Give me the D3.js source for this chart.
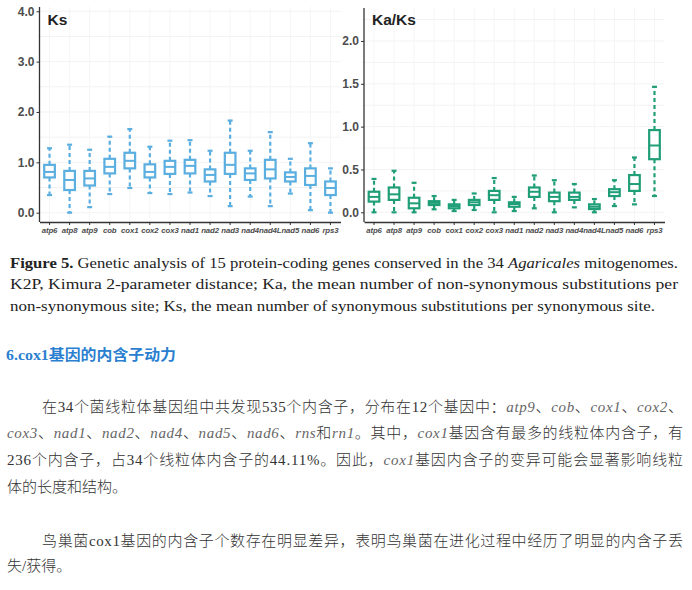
<!DOCTYPE html>
<html>
<head>
<meta charset="utf-8">
<script src="https://cdn.jsdelivr.net/npm/d3@7/dist/d3.min.js"></script>
<style>
body { margin: 0; background: #fff; }
</style>
</head>
<body>
<div id="chart-area"></div>
<script>
// genes on the x axis (same order in both panels)
var genes = ['atp6', 'atp8', 'atp9', 'cob', 'cox1', 'cox2', 'cox3', 'nad1', 'nad2', 'nad3', 'nad4', 'nad4L', 'nad5', 'nad6', 'rps3'];

// Ks box stats
var ksMin = [0.35, 0.00, 0.11, 0.37, 0.49, 0.39, 0.37, 0.40, 0.33, 0.13, 0.32, 0.13, 0.38, 0.05, 0.00];
var ksQ1  = [0.70, 0.45, 0.54, 0.78, 0.88, 0.70, 0.77, 0.78, 0.62, 0.77, 0.65, 0.68, 0.62, 0.55, 0.35];
var ksMed = [0.81, 0.65, 0.68, 0.91, 1.03, 0.81, 0.91, 0.93, 0.75, 0.95, 0.78, 0.86, 0.71, 0.73, 0.49];
var ksQ3  = [0.95, 0.83, 0.83, 1.07, 1.19, 0.96, 1.03, 1.05, 0.86, 1.19, 0.88, 1.05, 0.80, 0.88, 0.62];
var ksMax = [1.28, 1.35, 1.25, 1.51, 1.66, 1.31, 1.43, 1.44, 1.23, 1.83, 1.23, 1.60, 1.07, 1.38, 0.88];

// Ka/Ks box stats
var kkMin = [0.00, 0.00, 0.00, 0.035, 0.015, 0.027, 0.00, 0.015, 0.047, 0.00, 0.058, 0.00, 0.073, 0.093, 0.19];
var kkQ1  = [0.125, 0.145, 0.047, 0.085, 0.047, 0.085, 0.145, 0.065, 0.18, 0.13, 0.145, 0.038, 0.19, 0.25, 0.62];
var kkMed = [0.18, 0.21, 0.105, 0.11, 0.073, 0.117, 0.20, 0.097, 0.24, 0.18, 0.18, 0.065, 0.235, 0.33, 0.78];
var kkQ3  = [0.24, 0.29, 0.17, 0.13, 0.093, 0.145, 0.25, 0.117, 0.29, 0.23, 0.23, 0.093, 0.27, 0.435, 0.96];
var kkMax = [0.39, 0.485, 0.345, 0.19, 0.145, 0.22, 0.40, 0.18, 0.43, 0.375, 0.33, 0.155, 0.375, 0.64, 1.465];

var ksTicks = [0, 1, 2, 3, 4];
var kkTicks = [0, 0.5, 1, 1.5, 2];

// caption and body text, split into the lines of the picture
var captionLines = [
    [['Figure 5.', 'b'], [' Genetic analysis of 15 protein-coding genes conserved in the 34 ', ''], ['Agaricales', 'i'], [' mitogenomes.', '']],
    [['K2P, Kimura 2-parameter distance; Ka, the mean number of non-synonymous substitutions per', '']],
    [['non-synonymous site; Ks, the mean number of synonymous substitutions per synonymous site.', '']]
];
var heading = '6.cox1基因的内含子动力';
var bodyLines = [
    [['在34个菌线粒体基因组中共发现535个内含子，分布在12个基因中：', ''], ['atp9', 'i'], ['、', ''], ['cob', 'i'], ['、', ''], ['cox1', 'i'], ['、', ''], ['cox2', 'i'], ['、', '']],
    [['cox3', 'i'], ['、', ''], ['nad1', 'i'], ['、', ''], ['nad2', 'i'], ['、', ''], ['nad4', 'i'], ['、', ''], ['nad5', 'i'], ['、', ''], ['nad6', 'i'], ['、', ''], ['rns', 'i'], ['和', ''], ['rn1', 'i'], ['。其中，', ''], ['cox1', 'i'], ['基因含有最多的线粒体内含子，有', '']],
    [['236个内含子，占34个线粒体内含子的44.11%。因此，', ''], ['cox1', 'i'], ['基因内含子的变异可能会显著影响线粒', '']],
    [['体的长度和结构。', '']],
    [['鸟巢菌cox1基因的内含子个数存在明显差异，表明鸟巢菌在进化过程中经历了明显的内含子丢', '']],
    [['失/获得。', '']]
];

var svg = d3.select('#chart-area').append('svg')
    .attr('width', 692)
    .attr('height', 590)
    .style('font-family', 'Liberation Sans, Arial, sans-serif');

function table(mins, q1s, meds, q3s, maxs) {
    return genes.map((g, i) => {
        return {gene: g, min: mins[i], q1: q1s[i], med: meds[i], q3: q3s[i], max: maxs[i]};
    });
}

function drawPanel(opt) {
    var g = svg.append('g');
    var x = d3.scaleBand().domain(genes).range([opt.x0, opt.x1]);
    var y = d3.scaleLinear().domain(opt.domain).range([222, opt.top]);
    var bw = x.bandwidth() * 0.53;

    // faint background grid
    var minor = d3.range(opt.ticks[0], opt.domain[1], (opt.ticks[1] - opt.ticks[0]) / 2);
    g.selectAll('.grid-y').data(minor).enter().append('line')
        .attr('x1', opt.x0 - 2).attr('x2', opt.x1)
        .attr('y1', (d) => y(d)).attr('y2', (d) => y(d))
        .attr('stroke', '#f3f3f3').attr('stroke-width', 1);
    g.selectAll('.grid-x').data(genes).enter().append('line')
        .attr('x1', (d) => x(d) + x.bandwidth() / 2).attr('x2', (d) => x(d) + x.bandwidth() / 2)
        .attr('y1', opt.top).attr('y2', 222)
        .attr('stroke', '#f5f5f5').attr('stroke-width', 1);

    var boxes = g.selectAll('.box').data(opt.data).enter().append('g')
        .attr('transform', (d) => 'translate(' + (x(d.gene) + x.bandwidth() / 2) + ',0)');

    // whiskers
    boxes.append('line')
        .attr('y1', (d) => y(d.q3)).attr('y2', (d) => y(d.max))
        .attr('stroke', opt.color).attr('stroke-width', 2.2).attr('stroke-dasharray', '4,3');
    boxes.append('line')
        .attr('y1', (d) => y(d.q1)).attr('y2', (d) => y(d.min))
        .attr('stroke', opt.color).attr('stroke-width', 2.2).attr('stroke-dasharray', '4,3');
    boxes.append('line')
        .attr('x1', -2.5).attr('x2', 2.5)
        .attr('y1', (d) => y(d.max)).attr('y2', (d) => y(d.max))
        .attr('stroke', opt.color).attr('stroke-width', 2.2);
    boxes.append('line')
        .attr('x1', -2.5).attr('x2', 2.5)
        .attr('y1', (d) => y(d.min)).attr('y2', (d) => y(d.min))
        .attr('stroke', opt.color).attr('stroke-width', 2.2);

    boxes.append('rect')
        .attr('x', -bw / 2).attr('width', bw)
        .attr('y', (d) => y(d.q3))
        .attr('height', (d) => y(d.q1) - y(d.q3))
        .attr('fill', '#fff').attr('stroke', opt.color).attr('stroke-width', 2.2);
    boxes.append('line')
        .attr('x1', -bw / 2).attr('x2', bw / 2)
        .attr('y1', (d) => y(d.med)).attr('y2', (d) => y(d.med))
        .attr('stroke', opt.color).attr('stroke-width', 2);

    // axes
    var yAxis = g.append('g').attr('transform', 'translate(' + opt.x0 + ',0)')
        .call(d3.axisLeft(y).tickValues(opt.ticks).tickFormat(d3.format('.1f')).tickSize(3).tickPadding(2));
    var xAxis = g.append('g').attr('transform', 'translate(0,222)')
        .call(d3.axisBottom(x).tickSize(3).tickPadding(2).tickSizeOuter(0));
    yAxis.select('.domain').attr('d', 'M0,' + opt.top + 'V222');
    g.selectAll('.domain').attr('stroke', '#333').attr('stroke-width', 1.3);
    g.selectAll('.tick line').attr('stroke', '#333');
    yAxis.selectAll('text')
        .attr('font-size', 12).attr('font-weight', 'bold').attr('fill', '#4d4d4d')
        .style('font-family', 'Liberation Sans, Arial, sans-serif');
    xAxis.selectAll('text')
        .attr('font-size', 7.8).attr('font-weight', 'bold').attr('font-style', 'italic').attr('fill', '#4d4d4d')
        .attr('letter-spacing', -0.1)
        .style('font-family', 'Liberation Sans, Arial, sans-serif');

    g.append('text')
        .attr('x', opt.x0 + 8).attr('y', 25)
        .attr('font-size', 15.5).attr('font-weight', 'bold').attr('fill', '#222')
        .text(opt.title);
}

drawPanel({
    title: 'Ks', x0: 39.5, x1: 340.5, top: 7, domain: [-0.185, 4.085],
    ticks: ksTicks, color: '#5aaee0', data: table(ksMin, ksQ1, ksMed, ksQ3, ksMax)
});
drawPanel({
    title: 'Ka/Ks', x0: 364, x1: 664.5, top: 8, domain: [-0.113, 2.385],
    ticks: kkTicks, color: '#1f9e77', data: table(kkMin, kkQ1, kkMed, kkQ3, kkMax)
});

// caption under the figure
var capY = [268, 289, 311];
var capW = [668, 668, 645];
captionLines.forEach((line, i) => {
    var t = svg.append('text')
        .attr('x', 10).attr('y', capY[i])
        .attr('textLength', capW[i]).attr('lengthAdjust', 'spacingAndGlyphs')
        .attr('font-size', 15.5).attr('fill', '#222')
        .style('font-family', 'Liberation Serif, Times New Roman, serif');
    line.forEach((seg) => {
        t.append('tspan')
            .attr('font-weight', seg[1] === 'b' ? 'bold' : 'normal')
            .attr('font-style', seg[1] === 'i' ? 'italic' : 'normal')
            .text(seg[0]);
    });
});

svg.append('text')
    .attr('x', 6).attr('y', 359.5)
    .attr('textLength', 170).attr('lengthAdjust', 'spacingAndGlyphs')
    .attr('font-size', 15).attr('font-weight', 'bold').attr('fill', '#2b7fd0')
    .style('font-family', 'Liberation Serif, Noto Sans CJK SC, serif')
    .text(heading);

// body paragraphs
var bodyY = [412, 438, 464.5, 491.5, 546, 571];
var bodyX = [42, 7, 7, 7, 42, 7];
var bodyW = [641, 676, 676, null, 641, null];
bodyLines.forEach((line, i) => {
    var t = svg.append('text')
        .attr('x', bodyX[i]).attr('y', bodyY[i])
        .attr('font-size', 15).attr('fill', '#333').attr('font-weight', 300)
        .style('font-family', 'Liberation Serif, Noto Sans CJK SC, serif');
    if (bodyW[i]) {
        t.attr('textLength', bodyW[i]).attr('lengthAdjust', 'spacing');
    }
    line.forEach((seg) => {
        t.append('tspan')
            .attr('font-style', seg[1] === 'i' ? 'italic' : 'normal')
            .attr('fill', seg[1] === 'i' ? '#666' : '#333')
            .text(seg[0]);
    });
});
</script>
</body>
</html>
